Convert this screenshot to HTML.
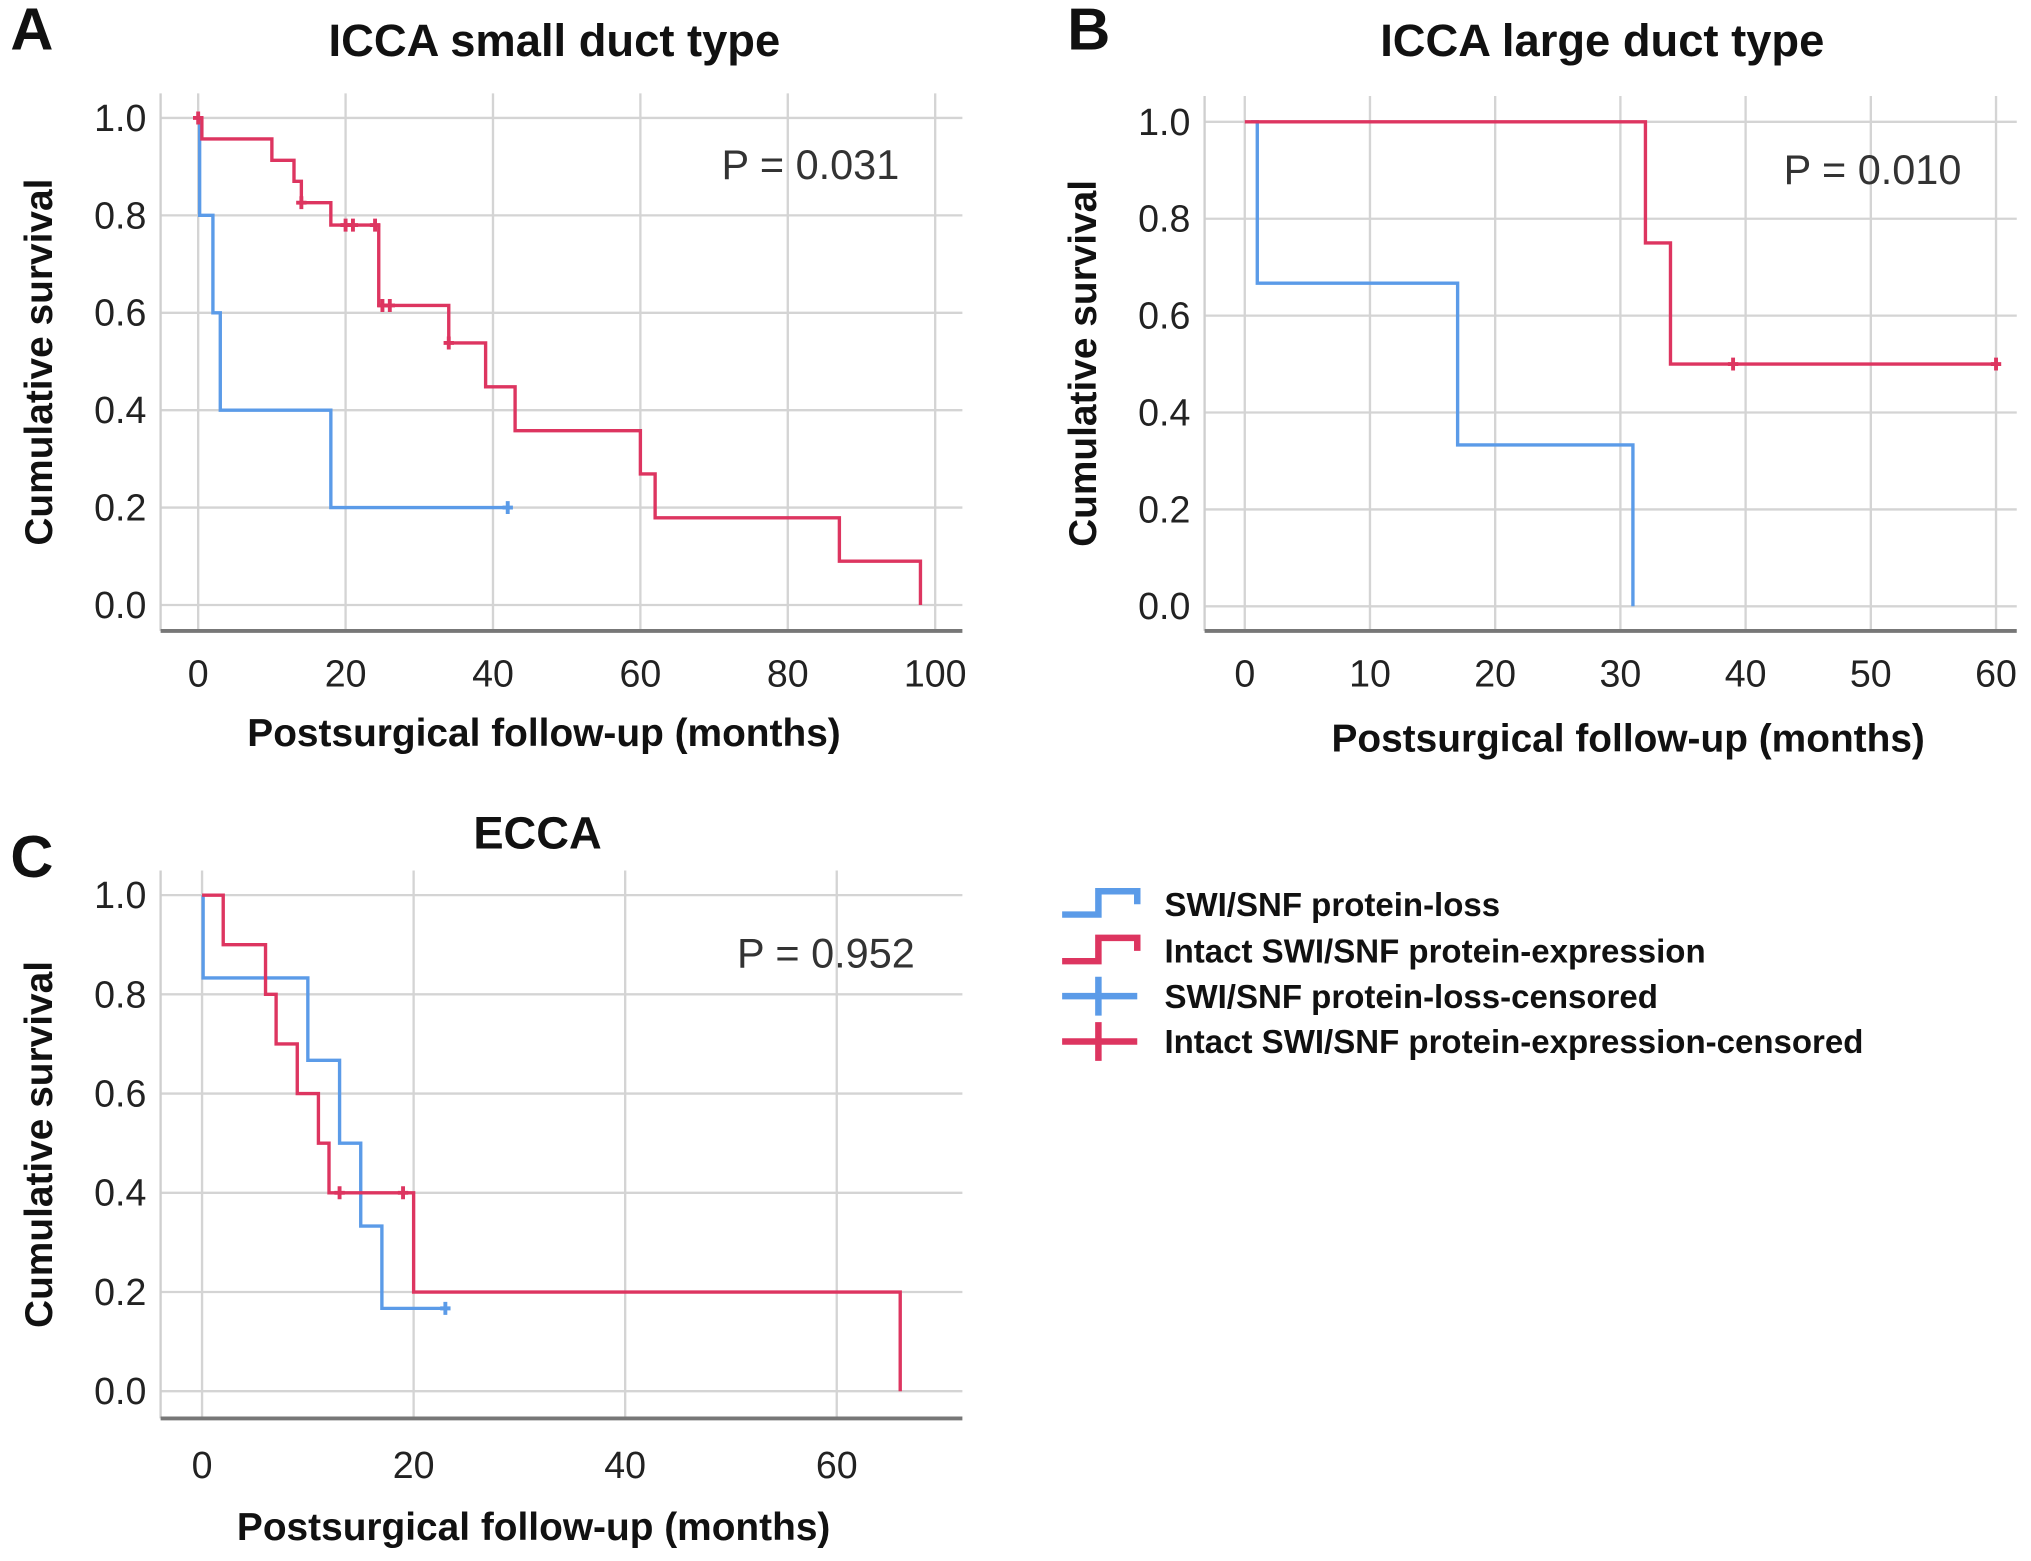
<!DOCTYPE html>
<html><head><meta charset="utf-8"><style>
html,body{margin:0;padding:0;background:#fff;}
svg{display:block;font-family:"Liberation Sans",Arial,sans-serif;}
</style></head><body>
<svg id="fig" width="2031" height="1561" viewBox="0 0 1568 1205" xmlns="http://www.w3.org/2000/svg"></svg>
<script>
// ---- Panel A data ----
const aRedT = [0, 0.5, 10, 13, 14, 18, 24.5, 34, 39, 43, 60, 62, 87, 98];
const aRedS = [1.0, 0.957, 0.913, 0.87, 0.826, 0.78, 0.615, 0.538, 0.448, 0.358, 0.269, 0.179, 0.09, 0.0];
const aRedEnd = 98;
const aRedCensT = [0, 14, 20, 21, 24, 25, 26, 34];
const aBlueT = [0, 0.2, 2, 3, 18];
const aBlueS = [1.0, 0.8, 0.6, 0.4, 0.2];
const aBlueEnd = 42;
const aBlueCensT = [42];
// ---- Panel B data ----
const bRedT = [0, 32, 34];
const bRedS = [1.0, 0.75, 0.5];
const bRedEnd = 60;
const bRedCensT = [39, 60];
const bBlueT = [0.5, 1, 17, 31];
const bBlueS = [1.0, 0.667, 0.333, 0.0];
const bBlueEnd = 31;
const bBlueCensT = [];
// ---- Panel C data ----
const cRedT = [0, 2, 6, 7, 9, 11, 12, 20, 66];
const cRedS = [1.0, 0.9, 0.8, 0.7, 0.6, 0.5, 0.4, 0.2, 0.0];
const cRedEnd = 66;
const cRedCensT = [13, 19];
const cBlueT = [0, 0.1, 10, 13, 15, 17];
const cBlueS = [1.0, 0.833, 0.667, 0.5, 0.333, 0.167];
const cBlueEnd = 23;
const cBlueCensT = [23];
// ---- Axis ticks ----
const yTicks = [0.0, 0.2, 0.4, 0.6, 0.8, 1.0];
const aXTicks = [0, 20, 40, 60, 80, 100];
const bXTicks = [0, 10, 20, 30, 40, 50, 60];
const cXTicks = [0, 20, 40, 60];
const pValues = ["P = 0.031", "P = 0.010", "P = 0.952"];

const NS = "http://www.w3.org/2000/svg";
const svg = document.getElementById('fig');
const BLUE = "#5b9be8", RED = "#dd3560";
function mk(tag, attrs, parent) {
  const e = document.createElementNS(NS, tag);
  for (const k in attrs) e.setAttribute(k, attrs[k]);
  (parent || svg).appendChild(e);
  return e;
}
function txt(s, attrs, parent) { const t = mk('text', attrs, parent); t.textContent = s; return t; }

function panel(cfg) {
  const g = mk('g', {});
  
  
  const X = v => cfg.x0 + (v - cfg.xmin) * (cfg.x1 - cfg.x0) / (cfg.xmax - cfg.xmin);
  const Y = v => cfg.y0 + v * (cfg.y1 - cfg.y0);
  cfg.xTicks.forEach(v => {
    const l = mk('line', {x1: X(v), x2: X(v), y1: cfg.top, y2: cfg.bottom, stroke: "#d4d4d4", "stroke-width": 1.8}, g);
    
    
    const t = txt(String(v), {x: X(v), y: cfg.xLabY, "text-anchor": "middle", "font-size": 29, fill: "#222"}, g);
    
    
  });
  yTicks.forEach(v => {
    const l = mk('line', {x1: cfg.left, x2: cfg.right, y1: Y(v), y2: Y(v), stroke: "#d4d4d4", "stroke-width": 1.8}, g);
    
    
    const t = txt(v.toFixed(1), {x: cfg.left - 11, y: Y(v) + 10, "text-anchor": "end", "font-size": 29, fill: "#222"}, g);
    
    
  });
  const la = mk('line', {x1: cfg.left, x2: cfg.left, y1: cfg.top, y2: cfg.bottom, stroke: "#cfcfcf", "stroke-width": 1.8}, g);
  
  
  const ba = mk('line', {x1: cfg.left, x2: cfg.right, y1: cfg.bottom, y2: cfg.bottom, stroke: "#777", "stroke-width": 3}, g);
  
  
  function curve(T, S, end, cens, color, nm) {
    let d = "M" + X(T[0]) + "," + Y(S[0]);
    for (let i = 1; i < T.length; i++) {
      d += " H" + X(T[i]) + " V" + Y(S[i]);
    }
    d += " H" + X(end);
    const p = mk('path', {d: d, fill: "none", stroke: color, "stroke-width": 2.6}, g);
    
    
    cens.forEach(c => {
      let s = S[0];
      for (let i = 0; i < T.length; i++) if (T[i] <= c) s = S[i];
      const cx = X(c), cy = Y(s);
      const m = mk('path', {d: `M${cx-4},${cy} H${cx+4} M${cx},${cy-5} V${cy+5}`, stroke: color, "stroke-width": 3}, g);
      
      
    });
  }
  curve(cfg.blue[0], cfg.blue[1], cfg.blue[2], cfg.blue[3], BLUE, 'protein-loss');
  curve(cfg.red[0], cfg.red[1], cfg.red[2], cfg.red[3], RED, 'intact-expression');
  const pv = txt(cfg.p, {x: cfg.pX, y: cfg.pY, "font-size": 32, fill: "#333"}, g);
  
  
  const tt = txt(cfg.title, {x: cfg.titleX, y: cfg.titleY, "text-anchor": "middle", "font-size": 35, "font-weight": "bold", fill: "#111"}, g);
  
  
  const lt = txt(cfg.letter, {x: cfg.letX, y: cfg.letY, "font-size": 46, "font-weight": "bold", fill: "#111"}, g);
  
  
  const xt = txt("Postsurgical follow-up (months)", {x: cfg.xtX, y: cfg.xtY, "text-anchor": "middle", "font-size": 30, "font-weight": "bold", fill: "#111"}, g);
  
  
  const yc = (cfg.top + cfg.bottom) / 2;
  const yt = txt("Cumulative survival", {x: cfg.ytX, y: yc, "text-anchor": "middle", "font-size": 30, "font-weight": "bold", fill: "#111", transform: `rotate(-90 ${cfg.ytX} ${yc})`}, g);
  
  
}

panel({name: 'panel-a', xmin: 0, xmax: 100, x0: 153, x1: 722, y0: 467, y1: 91,
  left: 124, right: 743, top: 72, bottom: 487, xTicks: aXTicks, xLabY: 530,
  red: [aRedT, aRedS, aRedEnd, aRedCensT], blue: [aBlueT, aBlueS, aBlueEnd, aBlueCensT],
  p: pValues[0], pX: 557, pY: 138, title: "ICCA small duct type", titleX: 428, titleY: 43,
  letter: "A", letX: 8, letY: 38, xtX: 420, xtY: 576, ytX: 40});
panel({name: 'panel-b', xmin: 0, xmax: 60, x0: 961, x1: 1541, y0: 468, y1: 94,
  left: 930, right: 1557, top: 74, bottom: 487, xTicks: bXTicks, xLabY: 530,
  red: [bRedT, bRedS, bRedEnd, bRedCensT], blue: [bBlueT, bBlueS, bBlueEnd, bBlueCensT],
  p: pValues[1], pX: 1377, pY: 142, title: "ICCA large duct type", titleX: 1237, titleY: 43,
  letter: "B", letX: 824, letY: 38, xtX: 1257, xtY: 580, ytX: 846});
panel({name: 'panel-c', xmin: 0, xmax: 60, x0: 156, x1: 646, y0: 1074, y1: 691,
  left: 124, right: 743, top: 672, bottom: 1095, xTicks: cXTicks, xLabY: 1141,
  red: [cRedT, cRedS, cRedEnd, cRedCensT], blue: [cBlueT, cBlueS, cBlueEnd, cBlueCensT],
  p: pValues[2], pX: 569, pY: 747, title: "ECCA", titleX: 415, titleY: 655,
  letter: "C", letX: 8, letY: 677, xtX: 412, xtY: 1189, ytX: 40});

const legLabels = ["SWI/SNF protein-loss", "Intact SWI/SNF protein-expression", "SWI/SNF protein-loss-censored", "Intact SWI/SNF protein-expression-censored"];
const legColors = [BLUE, RED, BLUE, RED];
const legY = [698, 734, 769, 804];
const lg = mk('g', {});


legLabels.forEach((s, i) => {
  const y = legY[i];
  let d;
  if (i < 2) d = `M820,${y+8} H848 V${y-10} H878 V${y}`;
  else d = `M820,${y} H878 M848,${y-15} V${y+15}`;
  const p = mk('path', {d: d, fill: "none", stroke: legColors[i], "stroke-width": 5}, lg);
  
  
  const t = txt(s, {x: 899, y: y + 9, "font-size": 25.5, "font-weight": "bold", fill: "#111"}, lg);
  
  
});
</script>
</body></html>
